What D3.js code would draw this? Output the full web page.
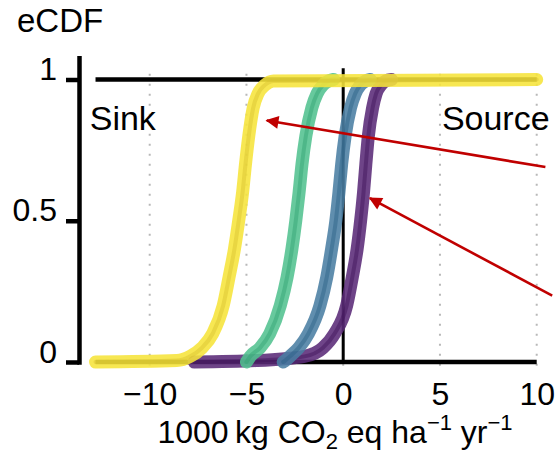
<!DOCTYPE html>
<html>
<head>
<meta charset="utf-8">
<script src="https://cdn.jsdelivr.net/npm/d3@7"></script>
<style>
  body { margin: 0; background: #fff; }
  svg text { font-family: "Liberation Sans", Arial, sans-serif; fill: #000; }
</style>
</head>
<body>
<div id="chart"></div>
<script>
/* global d3 */

// eCDF levels shared by the four curves
const levels = [0, 0.005, 0.02, 0.05, 0.1, 0.2, 0.3, 0.4, 0.5, 0.6, 0.7, 0.8, 0.9, 0.95, 0.98, 0.995, 1]

// value (1000 kg CO2 eq ha-1 yr-1) reached at each level
const purpleVals = [-7.7, -4.5, -2.0, -1.05, -0.45, 0.18, 0.47, 0.72, 0.9, 1.05, 1.17, 1.3, 1.52, 1.7, 1.95, 2.2, 2.5]
const blueVals = [-3.1, -3.0, -2.75, -2.3, -1.8, -1.2, -0.85, -0.6, -0.38, -0.22, -0.08, 0.1, 0.38, 0.62, 0.88, 1.15, 1.4]
const greenVals = [-5.0, -4.95, -4.8, -4.3, -3.8, -3.25, -2.9, -2.65, -2.45, -2.28, -2.13, -1.93, -1.62, -1.35, -1.05, -0.75, -0.5]
const yellowVals = [-12.8, -8.6, -7.9, -7.3, -6.75, -6.2, -5.9, -5.62, -5.4, -5.2, -5.05, -4.88, -4.65, -4.4, -4.05, -3.6, 10]

const seriesNames = ['purple', 'blue', 'green', 'yellow']   // draw order
const xTicks = [-10, -5, 0, 5, 10]
const yTicks = [0, 0.5, 1]
const refRange = [-12.8, 10]           // black lines at 0 and 1
const labels = [{ text: 'Sink', x: -13.1, y: 0.82 }, { text: 'Source', x: 5.1, y: 0.82 }]
const arrows = [
  { from: [10.45, 0.69], to: [-3.95, 0.855] },
  { from: [10.8, 0.235], to: [1.38, 0.58] }
]

const width = 557,
  height = 456,
  axisX = 79

const styles = {
  purple: { edge: '#5a2a77', core: '#3f1158' },
  blue: { edge: '#4a7ea3', core: '#2b5f86' },
  green: { edge: '#52c290', core: '#30a270' },
  yellow: { edge: '#f6e43a', core: '#d8c22f' }
}

const vals = { purple: purpleVals, blue: blueVals, green: greenVals, yellow: yellowVals }

let svg = d3.select('#chart')
  .append('svg')
  .attr('width', width)
  .attr('height', height)
  .style('background', '#fff')

const x = d3.scaleLinear()
  .domain([-10, 10])
  .range([149.7, 536.7])

const y = d3.scaleLinear()
  .domain([0, 1])
  .range([362, 79.5])

// dotted grid
svg.append('g')
  .selectAll('line')
  .data(xTicks)
  .enter()
  .append('line')
  .attr('x1', d => x(d))
  .attr('x2', d => x(d))
  .attr('y1', y(1.02))
  .attr('y2', y(-0.04))
  .attr('stroke', '#b8b8b8')
  .attr('stroke-width', 2)
  .attr('stroke-dasharray', '2,8')

// reference lines
svg.append('g')
  .selectAll('line')
  .data([0, 1])
  .enter()
  .append('line')
  .attr('x1', x(refRange[0]))
  .attr('x2', x(refRange[1]))
  .attr('y1', d => y(d))
  .attr('y2', d => y(d))
  .attr('stroke', '#000')
  .attr('stroke-width', 4.5)

svg.append('line')
  .attr('x1', x(0)).attr('x2', x(0))
  .attr('y1', y(1.04)).attr('y2', y(0))
  .attr('stroke', '#000')
  .attr('stroke-width', 3)

// curves
const line = d3.line()
  .x(d => x(d[0]))
  .y(d => y(d[1]))
  .curve(d3.curveMonotoneX)

seriesNames.forEach(name => {
  const pts = vals[name].map((v, i) => [v, levels[i]])
  svg.append('path')
    .datum(pts)
    .attr('d', line)
    .attr('fill', 'none')
    .attr('stroke', styles[name].edge)
    .attr('stroke-width', 13)
    .attr('stroke-linecap', 'round')
    .attr('stroke-linejoin', 'round')
    .attr('opacity', 0.88)
  svg.append('path')
    .datum(pts)
    .attr('d', line)
    .attr('fill', 'none')
    .attr('stroke', styles[name].core)
    .attr('stroke-width', 4)
    .attr('stroke-linecap', 'round')
    .attr('opacity', 0.45)
})

// y axis
const yAx = d3.scaleLinear()
  .domain([-0.008, 1.085])
  .range([y(-0.008), y(1.085)])

let gy = svg.append('g')
  .attr('transform', `translate(${axisX},0)`)
  .call(d3.axisLeft(yAx).tickValues(yTicks).tickFormat(d3.format('~g'))
    .tickSize(13).tickSizeOuter(0).tickPadding(9))

gy.select('.domain').attr('stroke-width', 4.5)
gy.selectAll('.tick line').attr('stroke-width', 4.5)
gy.selectAll('.tick text')
  .attr('dy', 0)
  .style('font-size', '32px')

// x axis (labels only)
let gx = svg.append('g')
  .attr('transform', `translate(0,${y(0)})`)
  .call(d3.axisBottom(x).tickValues(xTicks).tickSize(0).tickPadding(20))

gx.select('.domain').remove()
gx.selectAll('.tick text').style('font-size', '32px')

// titles
svg.append('text')
  .attr('x', 17)
  .attr('y', 32)
  .style('font-size', '33px')
  .text('eCDF')

let title = svg.append('text')
  .attr('x', 335)
  .attr('y', 443)
  .attr('text-anchor', 'middle')
  .style('font-size', '32px')

title.append('tspan').text('1000\u2009kg CO')
title.append('tspan').attr('dy', 6).style('font-size', '22px').text('2')
title.append('tspan').attr('dy', -6).text(' eq ha')
title.append('tspan').attr('dy', -13).style('font-size', '22px').text('\u22121')
title.append('tspan').attr('dy', 13).text(' yr')
title.append('tspan').attr('dy', -13).style('font-size', '22px').text('\u22121')

svg.append('g')
  .selectAll('text')
  .data(labels)
  .enter()
  .append('text')
  .attr('x', d => x(d.x))
  .attr('y', d => y(d.y))
  .style('font-size', '34px')
  .text(d => d.text)

// arrows
svg.append('defs')
  .append('marker')
  .attr('id', 'head')
  .attr('viewBox', '0 0 10 10')
  .attr('refX', 9)
  .attr('refY', 5)
  .attr('markerWidth', 6)
  .attr('markerHeight', 5)
  .attr('markerUnits', 'strokeWidth')
  .attr('orient', 'auto')
  .append('path')
  .attr('d', 'M0,0L10,5L0,10z')
  .attr('fill', '#c00000')

svg.append('g')
  .selectAll('line')
  .data(arrows)
  .enter()
  .append('line')
  .attr('x1', d => x(d.from[0]))
  .attr('y1', d => y(d.from[1]))
  .attr('x2', d => x(d.to[0]))
  .attr('y2', d => y(d.to[1]))
  .attr('stroke', '#c00000')
  .attr('stroke-width', 2.6)
  .attr('marker-end', 'url(#head)')
</script>
</body>
</html>
